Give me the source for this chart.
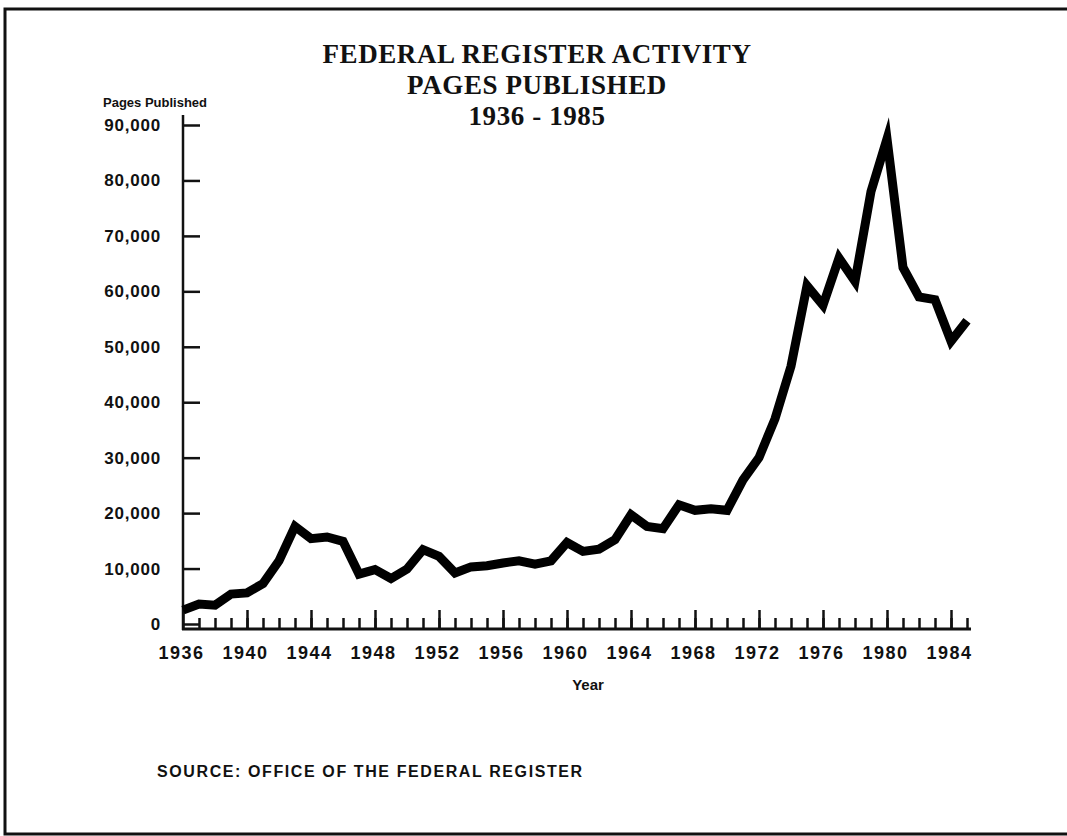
<!DOCTYPE html>
<html>
<head>
<meta charset="utf-8">
<script src="https://cdn.jsdelivr.net/npm/d3@7"></script>
<style>
  body { margin: 0; background: #fff; }
  svg { display: block; }
  .tick text { font-family: 'Liberation Sans', Arial, sans-serif; font-weight: bold; fill: #111; }
</style>
</head>
<body>
<div id="chart"></div>
<script>
var years = d3.range(1936, 1986)

var pages = [
  2500, 3600, 3400, 5400, 5600, 7300, 11400, 17600, 15400, 15700,
  14900, 9000, 9800, 8200, 9900, 13400, 12200, 9200, 10300, 10500,
  11000, 11400, 10800, 11400, 14700, 13100, 13500, 15200, 19700, 17600,
  17200, 21500, 20500, 20800, 20500, 26000, 30000, 37000, 46500, 61000,
  57500, 66000, 61800, 78000, 87500, 64300, 59000, 58500, 51000, 54700
]

var yTicks = [0, 10000, 20000, 30000, 40000, 50000, 60000, 70000, 80000, 90000]
var labelYears = [1936, 1940, 1944, 1948, 1952, 1956, 1960, 1964, 1968, 1972, 1976, 1980, 1984]
var titleLines = ['FEDERAL REGISTER ACTIVITY', 'PAGES PUBLISHED', '1936 - 1985']

var width = 1067
var height = 836

var svg = d3
  .select('#chart')
  .append('svg')
  .attr('width', width)
  .attr('height', height)

var ink = '#111'

// frame (no right edge in the scan)
svg
  .append('path')
  .attr('d', 'M1080,9 L5,9 L5,834 L1080,834')
  .attr('fill', 'none')
  .attr('stroke', ink)
  .attr('stroke-width', 3)

var xScale = d3
  .scaleLinear()
  .domain([1936, 1985])
  .range([183, 967])

var yScale = d3
  .scaleLinear()
  .domain([0, 90000])
  .range([624, 125])

var baseY = 629

// title
svg
  .selectAll('.title')
  .data(titleLines)
  .enter()
  .append('text')
  .attr('class', 'title')
  .attr('x', 537)
  .attr('y', (d, i) => 63 + i * 31)
  .attr('text-anchor', 'middle')
  .attr('font-family', "'Liberation Serif', 'Times New Roman', serif")
  .attr('font-weight', 'bold')
  .attr('font-size', 27)
  .attr('letter-spacing', 0.6)
  .attr('fill', ink)
  .text(d => d)

// y axis
var yAxis = d3
  .axisLeft(yScale)
  .tickValues(yTicks)
  .tickSizeInner(-17)
  .tickSizeOuter(0)
  .tickPadding(22)
  .tickFormat(d3.format(','))

var yG = svg
  .append('g')
  .attr('transform', 'translate(' + xScale(1936) + ',0)')
  .call(yAxis)

yG.select('.domain').remove()
yG.selectAll('.tick line').attr('stroke', ink).attr('stroke-width', 2.5)
yG.selectAll('.tick text').attr('font-size', 17).attr('letter-spacing', 0.8)

svg
  .append('line')
  .attr('x1', xScale(1936))
  .attr('x2', xScale(1936))
  .attr('y1', 115)
  .attr('y2', baseY + 1)
  .attr('stroke', ink)
  .attr('stroke-width', 2.5)

// x axis: short ticks every year, tall ticks + labels every 4 years
var xMinor = d3
  .axisBottom(xScale)
  .tickValues(years.filter(d => d > 1936))
  .tickSizeInner(-11)
  .tickSizeOuter(0)
  .tickFormat('')

var xMinorG = svg
  .append('g')
  .attr('transform', 'translate(0,' + baseY + ')')
  .call(xMinor)
xMinorG.select('.domain').remove()
xMinorG.selectAll('.tick line').attr('stroke', ink).attr('stroke-width', 2.5)

var xMajor = d3
  .axisBottom(xScale)
  .tickValues(labelYears)
  .tickSizeInner(-19)
  .tickSizeOuter(0)
  .tickPadding(17)
  .tickFormat(d3.format('d'))

var xMajorG = svg
  .append('g')
  .attr('transform', 'translate(0,' + baseY + ')')
  .call(xMajor)
xMajorG.select('.domain').remove()
xMajorG.selectAll('.tick line').attr('stroke', ink).attr('stroke-width', 2.5)
xMajorG.selectAll('.tick text')
  .attr('font-size', 18)
  .attr('letter-spacing', 1.5)
  .attr('dx', -2)

svg
  .append('line')
  .attr('x1', xScale(1936) - 1)
  .attr('x2', xScale(1985) + 4)
  .attr('y1', baseY)
  .attr('y2', baseY)
  .attr('stroke', ink)
  .attr('stroke-width', 3)

// the data line
var line = d3
  .line()
  .x((d, i) => xScale(years[i]))
  .y(d => yScale(d))

svg
  .append('path')
  .datum(pages)
  .attr('d', line)
  .attr('fill', 'none')
  .attr('stroke', '#000')
  .attr('stroke-width', 9)
  .attr('stroke-linejoin', 'miter')
  .attr('stroke-miterlimit', 6)

// labels
svg
  .append('text')
  .attr('x', 103)
  .attr('y', 107)
  .attr('font-family', "'Liberation Sans', Arial, sans-serif")
  .attr('font-weight', 'bold')
  .attr('font-size', 13)
  .attr('fill', ink)
  .text('Pages Published')

svg
  .append('text')
  .attr('x', 588)
  .attr('y', 690)
  .attr('text-anchor', 'middle')
  .attr('font-family', "'Liberation Sans', Arial, sans-serif")
  .attr('font-weight', 'bold')
  .attr('font-size', 15)
  .attr('fill', ink)
  .text('Year')

svg
  .append('text')
  .attr('x', 157)
  .attr('y', 777)
  .attr('font-family', "'Liberation Sans', Arial, sans-serif")
  .attr('font-weight', 'bold')
  .attr('font-size', 16)
  .attr('letter-spacing', 1.6)
  .attr('fill', ink)
  .text('SOURCE: OFFICE OF THE FEDERAL REGISTER')
</script>
</body>
</html>
